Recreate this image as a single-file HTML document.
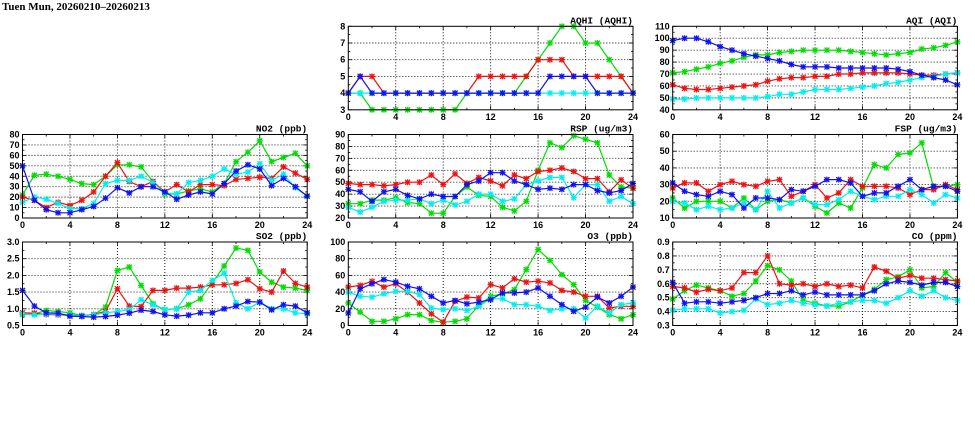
<!DOCTYPE html>
<html><head><meta charset="utf-8"><style>
html,body{margin:0;padding:0;background:#fff;width:975px;height:447px;overflow:hidden}
svg{display:block}
text{font-family:"Liberation Sans",sans-serif;font-weight:bold;font-size:9px;fill:#000}
text.pt{font-family:"Liberation Mono",monospace;font-size:9.5px}
</style></head><body>
<svg id="chart" width="975" height="447" viewBox="0 0 975 447" xmlns="http://www.w3.org/2000/svg">
<text x="2" y="10" style="font-family:'Liberation Serif',serif;font-size:11px">Tuen Mun, 20260210–20260213</text>
</svg>
<script>
const hours = [0,1,2,3,4,5,6,7,8,9,10,11,12,13,14,15,16,17,18,19,20,21,22,23,24];
const xTicks = [0,4,8,12,16,20,24];
const seriesNames = ["green","red","cyan","blue"];
const seriesColors = ["#00dd00","#ee1111","#00eeee","#1111ee"];

const aqhiGreen=[4,4,3,3,3,3,3,3,3,3,4,4,4,4,4,5,6,7,8,8,7,7,6,5,4];
const aqhiRed=[4,5,5,4,4,4,4,4,4,4,4,5,5,5,5,5,6,6,6,5,5,5,5,5,4];
const aqhiCyan=[4,4,4,4,4,4,4,4,4,4,4,4,4,4,4,4,4,4,4,4,4,4,4,4,4];
const aqhiBlue=[4,5,4,4,4,4,4,4,4,4,4,4,4,4,4,4,4,5,5,5,5,4,4,4,4];
const aqhiTicks=[3,4,5,6,7,8];

const aqiGreen=[71,72,74,76,79,81,84,86,86,88,89,90,90,90,90,89,88,87,86,87,88,91,92,94,97];
const aqiRed=[61,58,57,57,58,59,60,61,64,66,67,67,68,68,70,70,71,71,71,71,70,69,69,70,71];
const aqiCyan=[49,49,50,50,50,50,50,50,51,53,53,55,57,57,57,58,59,60,62,63,65,67,68,70,71];
const aqiBlue=[98,100,100,97,93,90,87,85,83,81,78,76,76,76,75,75,75,75,75,74,72,69,67,65,61];
const aqiTicks=[40,50,60,70,80,90,100,110];

const no2Green=[22,41,42,40,37,33,32,40,51,51,49,35,23,23,26,28,25,33,54,63,74,54,58,62,50];
const no2Red=[20,17,10,15,12,17,25,40,53,35,30,35,25,32,25,32,32,31,37,38,39,38,49,43,37];
const no2Cyan=[15,20,18,14,9,9,14,33,36,36,40,34,24,23,34,36,40,47,42,44,52,36,42,29,21];
const no2Blue=[50,17,8,5,5,8,11,19,29,24,30,30,25,18,22,25,23,33,45,51,47,31,38,30,21];
const no2Ticks=[0,10,20,30,40,50,60,70,80];

const rspGreen=[32,32,35,35,37,33,32,24,24,38,46,39,38,29,26,34,60,83,79,89,86,83,56,46,45];
const rspRed=[49,48,48,47,48,50,50,56,48,57,49,54,51,47,56,53,59,60,62,59,53,53,42,52,45];
const rspCyan=[29,25,29,34,35,35,36,32,35,31,34,40,40,34,36,48,51,54,54,37,48,48,34,38,32];
const rspBlue=[44,42,34,42,44,39,36,40,38,38,48,51,58,58,51,48,44,45,44,48,48,43,41,43,49];
const rspTicks=[20,30,40,50,60,70,80,90];

const fspGreen=[22,16,20,20,20,16,22,15,20,21,19,22,17,13,19,16,28,42,40,48,49,55,28,29,30];
const fspRed=[28,31,31,26,30,32,30,29,32,33,23,26,30,22,25,33,29,29,29,28,24,27,27,30,27];
const fspCyan=[20,19,15,17,15,16,19,15,26,16,19,22,18,18,21,26,23,21,23,23,27,24,19,24,22];
const fspBlue=[31,26,24,23,26,24,16,22,22,21,27,26,29,33,33,31,23,25,25,29,33,27,29,29,26];
const fspTicks=[10,20,30,40,50,60];

const so2Green=[0.83,0.85,0.95,0.92,0.88,0.80,0.82,1.05,2.15,2.25,1.7,1.15,0.97,1.0,1.12,1.3,1.78,2.28,2.82,2.75,2.1,1.8,1.65,1.62,1.55];
const so2Red=[0.88,0.87,0.83,0.82,0.81,0.80,0.83,0.92,1.6,1.08,1.07,1.55,1.55,1.62,1.62,1.65,1.72,1.72,1.76,1.87,1.6,1.5,2.13,1.76,1.65];
const so2Cyan=[0.85,0.82,0.85,0.84,0.82,0.80,0.82,0.88,0.92,0.98,1.27,1.12,0.98,1.0,1.5,1.55,1.85,2.07,1.18,1.0,1.2,1.0,1.0,0.88,0.85];
const so2Blue=[1.55,1.08,0.88,0.87,0.78,0.77,0.75,0.77,0.81,0.87,0.96,0.92,0.82,0.78,0.81,0.88,0.88,1.0,1.08,1.22,1.2,0.97,1.12,1.08,0.88];
const so2Ticks=[0.5,1.0,1.5,2.0,2.5,3.0];

const o3Green=[27,16,5,5,8,13,13,6,4,5,8,24,35,38,43,67,91,78,61,49,30,22,13,8,13];
const o3Red=[46,48,53,46,50,40,27,14,4,29,34,33,49,45,56,52,53,51,42,40,35,35,21,23,23];
const o3Cyan=[40,35,34,38,41,41,37,21,19,20,18,23,32,32,25,25,23,18,20,20,9,23,15,25,27];
const o3Blue=[15,44,50,55,52,47,44,35,27,30,26,28,31,39,39,40,45,35,25,17,22,34,27,35,46];
const o3Ticks=[0,20,40,60,80,100];

const coGreen=[0.49,0.55,0.59,0.57,0.55,0.51,0.53,0.62,0.73,0.70,0.62,0.48,0.46,0.44,0.44,0.47,0.52,0.56,0.63,0.65,0.70,0.57,0.58,0.68,0.61];
const coRed=[0.58,0.57,0.54,0.56,0.55,0.57,0.68,0.68,0.80,0.60,0.59,0.60,0.58,0.60,0.58,0.59,0.57,0.72,0.69,0.64,0.66,0.64,0.64,0.63,0.62];
const coCyan=[0.41,0.42,0.42,0.42,0.39,0.40,0.41,0.49,0.45,0.46,0.48,0.46,0.45,0.44,0.46,0.47,0.48,0.48,0.46,0.50,0.55,0.51,0.55,0.50,0.48];
const coBlue=[0.61,0.46,0.47,0.47,0.46,0.47,0.48,0.50,0.53,0.53,0.55,0.52,0.54,0.52,0.52,0.52,0.52,0.55,0.60,0.62,0.61,0.59,0.61,0.61,0.58];
const coTicks=[0.3,0.4,0.5,0.6,0.7,0.8,0.9];

const NS="http://www.w3.org/2000/svg";
const svg=document.getElementById('chart');
function mk(tag,attrs,parent){const e=document.createElementNS(NS,tag);for(const k in attrs)e.setAttribute(k,attrs[k]);(parent||svg).appendChild(e);return e;}

const colX=[22.5,348.3,672.7];
const rowY=[26.3,134.5,242];
const PW=284.7, PH=83.5;

function panel(name,title,col,row,ticks,dec,series){
  const g=mk('g',{});
  
  
  const x0=colX[col], y0=rowY[row];
  const ymin=ticks[0], ymax=ticks[ticks.length-1];
  const xs=h=>x0+h/24*PW;
  const ys=v=>y0+PH-(v-ymin)/(ymax-ymin)*PH;
  const step=(ymax-ymin)/(ticks.length-1);
  ticks.forEach((t,k)=>{
    const y=ys(t);
    if(t!==ymin&&t!==ymax){const l=mk('line',{x1:x0,x2:x0+PW,y1:y,y2:y,stroke:'#000','stroke-width':0.9,'stroke-dasharray':'1,2'},g);
      
      }
    mk('line',{x1:x0,x2:x0+4,y1:y,y2:y,stroke:'#000','stroke-width':0.8},g);
    mk('line',{x1:x0+PW-4,x2:x0+PW,y1:y,y2:y,stroke:'#000','stroke-width':0.8},g);
    if(k<ticks.length-1){const ym=ys(t+step/2);
      mk('line',{x1:x0,x2:x0+2,y1:ym,y2:ym,stroke:'#000','stroke-width':0.8},g);
      mk('line',{x1:x0+PW-2,x2:x0+PW,y1:ym,y2:ym,stroke:'#000','stroke-width':0.8},g);}
    const tx=mk('text',{x:x0-3,y:y+3,'text-anchor':'end'},g);
    tx.textContent=t.toFixed(dec);
    
    
  });
  xTicks.forEach((t,k)=>{
    const x=xs(t);
    if(t!==0&&t!==24){const l=mk('line',{x1:x,x2:x,y1:y0,y2:y0+PH,stroke:'#000','stroke-width':0.9,'stroke-dasharray':'1,2'},g);
      
      }
    mk('line',{x1:x,x2:x,y1:y0+PH-4,y2:y0+PH,stroke:'#000','stroke-width':0.8},g);
    mk('line',{x1:x,x2:x,y1:y0,y2:y0+4,stroke:'#000','stroke-width':0.8},g);
    if(k<xTicks.length-1){const xm=xs(t+2);
      mk('line',{x1:xm,x2:xm,y1:y0+PH-2,y2:y0+PH,stroke:'#000','stroke-width':0.8},g);
      mk('line',{x1:xm,x2:xm,y1:y0,y2:y0+2,stroke:'#000','stroke-width':0.8},g);}
    const tx=mk('text',{x:x,y:y0+PH+10,'text-anchor':'middle'},g);
    tx.textContent=t;
    
    
  });
  const tt=mk('text',{x:x0+PW,y:y0-3,'text-anchor':'end','class':'pt'},g);
  tt.textContent=title;
  
  
  series.forEach((vals,i)=>{
    const c=seriesColors[i];
    const sg=mk('g',{},g);
    
    
    const pts=vals.map((v,j)=>xs(hours[j]).toFixed(1)+','+ys(v).toFixed(1)).join(' ');
    const pl=mk('polyline',{points:pts,fill:'none',stroke:c,'stroke-width':1.2},sg);
    
    
    vals.forEach((v,j)=>{
      const x=xs(hours[j]),y=ys(v);
      const m=mk('path',{d:`M${x-2.5},${y-2.5}L${x+2.5},${y+2.5}M${x-2.5},${y+2.5}L${x+2.5},${y-2.5}M${x-3},${y}L${x+3},${y}M${x},${y-3}L${x},${y+3}`,stroke:c,'stroke-width':1.1},sg);
      
      
      const r=mk('rect',{x:x-2.5,y:y-2.5,width:5,height:5,fill:c,'fill-opacity':0.35},sg);
      
      
    });
  });
  const fr=mk('rect',{x:x0,y:y0,width:PW,height:PH,fill:'none',stroke:'#000','stroke-width':1},g);
  
  
}
panel('aqhi','AQHI (AQHI)',1,0,aqhiTicks,0,[aqhiGreen,aqhiRed,aqhiCyan,aqhiBlue]);
panel('aqi','AQI (AQI)',2,0,aqiTicks,0,[aqiGreen,aqiRed,aqiCyan,aqiBlue]);
panel('no2','NO2 (ppb)',0,1,no2Ticks,0,[no2Green,no2Red,no2Cyan,no2Blue]);
panel('rsp','RSP (ug/m3)',1,1,rspTicks,0,[rspGreen,rspRed,rspCyan,rspBlue]);
panel('fsp','FSP (ug/m3)',2,1,fspTicks,0,[fspGreen,fspRed,fspCyan,fspBlue]);
panel('so2','SO2 (ppb)',0,2,so2Ticks,1,[so2Green,so2Red,so2Cyan,so2Blue]);
panel('o3','O3 (ppb)',1,2,o3Ticks,0,[o3Green,o3Red,o3Cyan,o3Blue]);
panel('co','CO (ppm)',2,2,coTicks,1,[coGreen,coRed,coCyan,coBlue]);
</script>
</body></html>
